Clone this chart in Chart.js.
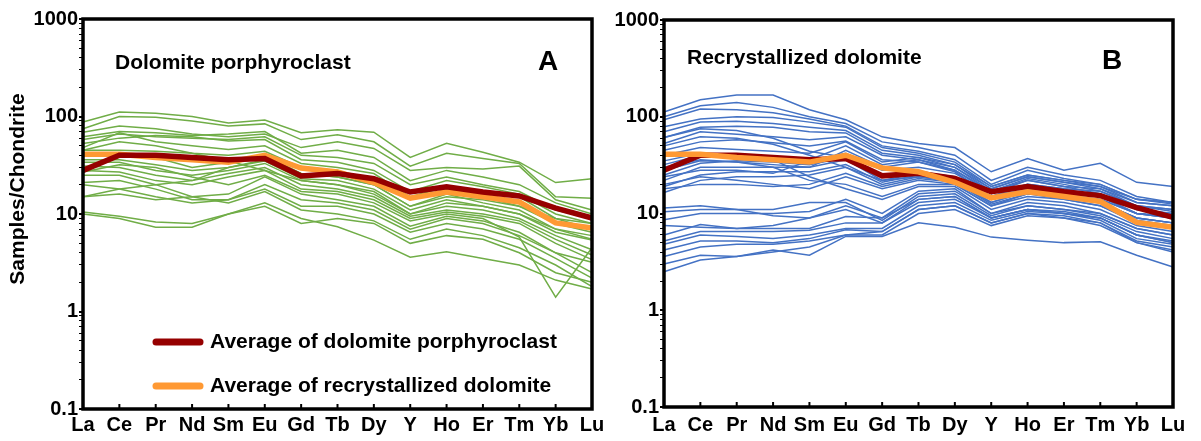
<!DOCTYPE html>
<html>
<head>
<meta charset="utf-8">
<script src="https://cdn.jsdelivr.net/npm/chart.js@4/dist/chart.umd.min.js"></script>
<style>
body { margin: 0; background: #fff; }
#wrap { position: relative; width: 1201px; height: 441px; }
canvas { position: absolute; top: 0; }
#chart-a { left: 0; }
#chart-b { left: 610px; }
</style>
</head>
<body>
<div id="wrap">
<canvas id="chart-a" width="610" height="441"></canvas>
<canvas id="chart-b" width="591" height="441"></canvas>
</div>
<script>
var elements = ['La', 'Ce', 'Pr', 'Nd', 'Sm', 'Eu', 'Gd', 'Tb', 'Dy', 'Y', 'Ho', 'Er', 'Tm', 'Yb', 'Lu'];
var yMajor = [0.1, 1, 10, 100, 1000];

var avgPorphyroclast = [28, 40, 40, 38, 36, 37, 24.5, 26, 23, 16.8, 19, 16.8, 15.3, 11.5, 9.1];
var avgRecrystallized = [41, 41, 38, 36, 34, 40, 29.6, 27, 21, 14.5, 16.8, 15, 13.3, 8.1, 7.2];

// dolomite porphyroclast samples (panel A)
var porphyroclastSamples = [
    [88, 111, 108, 100, 86, 92, 68, 73, 69, 38, 53, 43, 34, 21, 23],
    [75, 100, 98, 90, 80, 84, 58, 65, 55, 31, 42, 37, 33, 15, 14.5],
    [69, 80, 75, 66, 62, 66, 48, 55, 47, 28, 30, 29, 31, 14, 11],
    [62, 70, 68, 64, 66, 70, 42, 45, 38, 22, 28, 24, 20, 13, 10],
    [58, 66, 62, 60, 58, 62, 40, 38, 33, 20, 24, 20, 17, 11, 9],
    [53, 60, 64, 62, 56, 58, 36, 34, 28, 17, 22, 19, 16, 10, 8],
    [48, 68, 55, 50, 46, 50, 33, 30, 26, 15, 19, 17, 15, 9, 7],
    [45, 55, 50, 42, 40, 44, 30, 28, 22, 14, 18, 15, 12, 8, 6.5],
    [40, 42, 38, 30, 34, 40, 26, 24, 20, 12, 16, 13, 11, 7, 6],
    [36, 36, 32, 28, 30, 35, 23, 22, 18, 11, 14, 12, 10, 6.5, 5.4],
    [34, 34, 28, 25, 28, 33, 22, 20, 16, 10, 12, 11, 9, 6, 4.3],
    [31, 30, 25, 22, 26, 30, 20, 18, 15, 9.5, 11, 10, 8.5, 5.5, 3.8],
    [28, 27, 22, 20, 24, 28, 18, 17, 14, 9, 10.5, 9.5, 8, 5, 3.4],
    [27, 32, 30, 24, 20, 25, 17, 16, 13, 8.5, 10, 9, 5.8, 1.4, 4.5],
    [25, 25, 20, 15, 16, 24, 16, 14, 12, 7.5, 9.5, 8.5, 6.5, 4, 3.2],
    [21, 22, 18, 14, 14, 20, 14, 13, 11, 7, 9, 8, 6, 4, 2.5],
    [20, 18, 15, 13, 14, 18, 12, 12, 10, 6.5, 8, 7, 5.5, 3.5, 2.2],
    [15, 16, 14, 15, 13, 17, 11, 10, 8.5, 5.5, 7, 6, 4.5, 3, 1.8],
    [10.5, 9.5, 8.3, 8, 10, 13, 9, 7.4, 5.4, 3.6, 4.1, 3.5, 3.0, 2.1, 1.7],
    [10, 9, 7.3, 7.3, 10, 12, 8, 9, 8, 5, 6, 5.5, 4, 2.5, 2],
    [45, 45, 44, 42, 35, 28, 22, 20, 17, 10, 13, 12, 10, 7, 5.5],
    [15, 18, 20, 22, 30, 36, 26, 24, 20, 12, 15, 14, 12, 9, 8]
];

// recrystallized dolomite samples (panel B)
var recrystallizedSamples = [
    [112, 150, 168, 168, 118, 93, 62, 53, 48, 27, 37, 28, 33, 21, 19],
    [100, 130, 140, 125, 100, 85, 55, 48, 40, 22, 30, 25, 22, 15, 13],
    [93, 120, 118, 110, 95, 80, 50, 44, 36, 20, 28, 23, 20, 14, 12.5],
    [79, 95, 100, 98, 88, 78, 48, 42, 34, 19, 25, 22, 19, 13, 12],
    [70, 88, 90, 85, 78, 72, 45, 40, 32, 18, 24, 21, 18, 12, 11],
    [61, 78, 80, 78, 70, 68, 42, 38, 30, 17, 23, 20, 17, 12, 10.5],
    [53, 70, 66, 62, 58, 62, 40, 36, 28, 16, 22, 19, 16, 11, 10],
    [45, 55, 58, 54, 50, 56, 36, 34, 27, 15, 20, 18, 15, 10, 9.5],
    [61, 75, 72, 60, 44, 38, 25, 26, 24, 15, 18, 16, 14, 10, 9],
    [50, 62, 60, 52, 40, 30, 22, 24, 22, 14, 17, 15, 13, 9, 8],
    [25, 33, 35, 34, 32, 38, 24, 27, 24, 15, 19, 17, 16, 11, 10],
    [22, 30, 30, 30, 30, 36, 22, 26, 23, 14, 18, 16, 15, 10, 9],
    [19, 25, 27, 27, 27, 32, 21, 25, 22, 13, 17, 15, 14, 10, 9],
    [16.5, 22, 24, 24, 25, 30, 20, 24, 21, 13, 17, 15, 13, 9, 8],
    [28, 35, 34, 30, 22, 20, 15, 20, 20, 12, 15, 14, 12, 8, 7],
    [32, 40, 38, 36, 24, 18, 14, 19, 19, 11, 14, 13, 11, 7.5, 6.5],
    [20, 24, 22, 20, 18, 24, 18, 22, 20, 12, 16, 14, 12, 8.5, 7.5],
    [18, 20, 20, 19, 20, 26, 19, 23, 21, 12.5, 16, 15, 13, 9, 8],
    [24, 28, 28, 26, 35, 42, 28, 30, 26, 16, 20, 18, 17, 12, 11],
    [30, 36, 34, 32, 30, 45, 30, 34, 28, 17, 22, 19, 18, 13, 12],
    [35, 42, 40, 38, 36, 50, 32, 36, 30, 18, 24, 21, 19, 14, 13],
    [40, 48, 46, 44, 42, 55, 34, 38, 32, 19, 25, 22, 20, 14, 13],
    [11.4, 12, 11, 9.5, 9, 12, 9, 16, 17, 10, 12, 11, 10, 7, 6],
    [10.4, 11, 11, 11, 13, 13, 8.5, 15, 16, 9.5, 12, 11, 9.5, 6.5, 5.5],
    [8.6, 10, 10, 10, 10.5, 14, 10, 17, 18, 10, 13, 12, 10, 7, 6],
    [6, 7.7, 7, 7, 7, 9.3, 9, 14, 15, 9, 11, 10, 9, 6, 5],
    [5.2, 6.5, 6.5, 6.5, 6.7, 8, 8, 13, 14, 9, 11, 10, 9, 6, 5],
    [4.8, 6, 5.8, 5.5, 6, 7, 7, 12, 13, 8.5, 10.5, 10, 8.5, 5.5, 4.8],
    [4.2, 5.2, 5.2, 5, 5.5, 6.8, 6.5, 11, 12, 8, 10, 9.5, 8, 5.2, 4.5],
    [3.6, 4.5, 4.8, 4.8, 5.2, 6, 6, 10, 11, 7.5, 9.5, 9, 7.5, 5, 4.2],
    [3, 3.7, 3.6, 4.2, 3.7, 5.8, 5.8, 8, 7.2, 5.7, 5.3, 5, 5.1, 3.7, 2.8],
    [2.5, 3.3, 3.6, 4, 4.5, 6, 6.5, 11, 12, 8, 10, 9, 8, 5, 4],
    [7.5, 7.2, 7, 7.5, 9, 11, 8, 14, 15, 9, 11, 10.5, 9, 6, 5.2]
];

var fontFamily = '"Liberation Sans", Arial, sans-serif';
var green = 'rgb(112, 173, 71)';
var blue = 'rgb(68, 114, 196)';
var darkRed = 'rgb(150, 0, 0)';
var orange = 'rgb(255, 153, 51)';

function sampleSets(list, color) {
    return list.map(function (v) {
        return { data: v, borderColor: color, borderWidth: 1.5, order: 2 };
    });
}

function isMajor(v) {
    var l = Math.log10(v);
    return Math.abs(l - Math.round(l)) < 1e-6;
}

// frame, inner x ticks and annotation texts
function decor(cfg) {
    return {
        id: 'decor',
        afterDraw: function (chart) {
            var ctx = chart.ctx, a = chart.chartArea, xs = chart.scales.x;
            ctx.save();
            ctx.strokeStyle = '#000';
            ctx.lineWidth = 2;
            for (var i = 1; i < elements.length - 1; i++) {
                var px = xs.getPixelForTick(i);
                ctx.beginPath();
                ctx.moveTo(px, a.bottom);
                ctx.lineTo(px, a.bottom - 5);
                ctx.stroke();
            }
            ctx.lineWidth = 3.5;
            ctx.strokeRect(a.left, a.top, a.right - a.left, a.bottom - a.top);

            ctx.fillStyle = '#000';
            ctx.textBaseline = 'middle';
            ctx.textAlign = 'left';
            ctx.font = 'bold 21px ' + fontFamily;
            ctx.fillText(cfg.title, cfg.titleX, cfg.titleY);
            ctx.textAlign = 'center';
            ctx.font = 'bold 28px ' + fontFamily;
            ctx.fillText(cfg.letter, cfg.letterX, cfg.letterY);

            if (cfg.yTitle) {
                ctx.save();
                ctx.translate(18, 189);
                ctx.rotate(-Math.PI / 2);
                ctx.font = 'bold 21px ' + fontFamily;
                ctx.fillText(cfg.yTitle, 0, 0);
                ctx.restore();
            }
            if (cfg.legend) {
                ctx.lineCap = 'round';
                ctx.lineWidth = 7;
                ctx.textAlign = 'left';
                ctx.font = 'bold 21px ' + fontFamily;
                cfg.legend.forEach(function (it) {
                    ctx.strokeStyle = it.color;
                    ctx.beginPath();
                    ctx.moveTo(156, it.y);
                    ctx.lineTo(200, it.y);
                    ctx.stroke();
                    ctx.fillText(it.text, 210, it.y);
                });
            }
            ctx.restore();
        }
    };
}

function makePanel(id, samples, color, avgOnTop, dims, cfg) {
    var datasets = sampleSets(samples, color);
    datasets.push({ data: avgRecrystallized, borderColor: orange, borderWidth: 5.5, order: avgOnTop === 'orange' ? 0 : 1 });
    datasets.push({ data: avgPorphyroclast, borderColor: darkRed, borderWidth: 5.5, order: avgOnTop === 'orange' ? 1 : 0 });

    return new Chart(document.getElementById(id).getContext('2d'), {
        type: 'line',
        data: { labels: elements, datasets: datasets },
        options: {
            responsive: false,
            animation: false,
            layout: { padding: { left: 0, top: dims.top, right: dims.right, bottom: 0 } },
            elements: { point: { radius: 0 }, line: { tension: 0 } },
            plugins: { legend: { display: false }, tooltip: { enabled: false } },
            scales: {
                x: {
                    type: 'category',
                    offset: false,
                    afterFit: function (s) { s.height = dims.xHeight; s.paddingLeft = 0; s.paddingRight = 0; },
                    border: { display: false },
                    grid: { display: false, drawTicks: false, tickLength: 0 },
                    ticks: {
                        autoSkip: false, maxRotation: 0, padding: dims.xPad, color: '#000',
                        font: { family: fontFamily, size: 20, weight: 'bold' }
                    }
                },
                y: {
                    type: 'logarithmic',
                    min: 0.1,
                    max: 1000,
                    afterBuildTicks: function (s) {
                        var t = [];
                        for (var d = 0; d < 4; d++) {
                            for (var m = 1; m <= 9; m++) {
                                t.push({ value: yMajor[d] * m, major: m === 1 });
                            }
                        }
                        t.push({ value: 1000, major: true });
                        s.ticks = t;
                    },
                    afterFit: function (s) { s.width = dims.yWidth; s.paddingTop = 0; s.paddingBottom = 0; },
                    border: { display: false },
                    grid: {
                        drawOnChartArea: false,
                        tickLength: 4,
                        color: '#000',
                        lineWidth: function (c) { return c.tick && isMajor(c.tick.value) ? 2 : 1; }
                    },
                    ticks: {
                        autoSkip: false, padding: 1, color: '#000',
                        font: { family: fontFamily, size: 20, weight: 'bold' },
                        callback: function (v) {
                            if (!isMajor(v)) return '';
                            return v < 1 ? '0.1' : String(Math.round(v));
                        }
                    }
                }
            }
        },
        plugins: [decor(cfg)]
    });
}

makePanel('chart-a', porphyroclastSamples, green, 'red',
    { top: 19, right: 18, xHeight: 32, yWidth: 83, xPad: 4 },
    {
        title: 'Dolomite porphyroclast', titleX: 115, titleY: 63,
        letter: 'A', letterX: 548, letterY: 62,
        yTitle: 'Samples/Chondrite',
        legend: [
            { text: 'Average of dolomite porphyroclast', color: darkRed, y: 342 },
            { text: 'Average of recrystallized dolomite', color: orange, y: 386 }
        ]
    });

makePanel('chart-b', recrystallizedSamples, blue, 'orange',
    { top: 20, right: 28, xHeight: 34, yWidth: 54, xPad: 6 },
    {
        title: 'Recrystallized dolomite', titleX: 77, titleY: 58,
        letter: 'B', letterX: 502, letterY: 61
    });
</script>
</body>
</html>
